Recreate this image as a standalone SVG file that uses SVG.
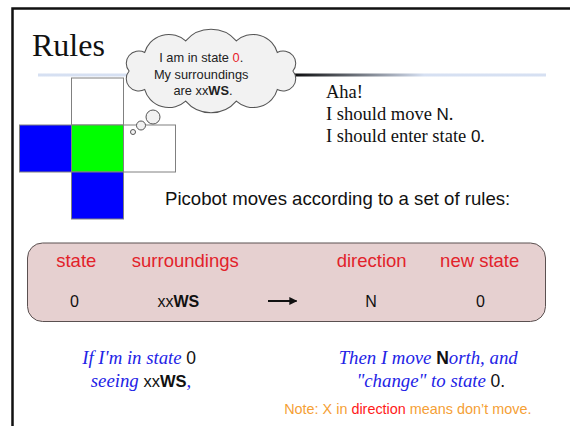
<svg xmlns="http://www.w3.org/2000/svg" width="570" height="426" viewBox="0 0 570 426">
<style>
.serif{font-family:"Liberation Serif","Times New Roman",serif}
.sans{font-family:"Liberation Sans",Arial,sans-serif}
.cell{stroke:#808080;stroke-width:1}
.hdr{fill:#e2222a;font-size:18.5px;text-anchor:middle}
.val{fill:#111;font-size:16px;text-anchor:middle}
.cloud{fill:#f2f2f2;stroke:#555;stroke-width:1}
.blue{fill:#2323e6;font-style:italic}
</style>
<defs>
<linearGradient id="ul" gradientUnits="userSpaceOnUse" x1="38" y1="0" x2="546" y2="0">
<stop offset="0" stop-color="#d6e0f2"/>
<stop offset="0.2" stop-color="#d6e0f2"/>
<stop offset="0.49" stop-color="#000"/>
<stop offset="0.76" stop-color="#d6e0f2"/>
<stop offset="1" stop-color="#d6e0f2"/>
</linearGradient>
<marker id="ah" viewBox="0 0 10 10" refX="9" refY="5" markerWidth="4" markerHeight="4" orient="auto" markerUnits="strokeWidth">
<path d="M0,0 L10,5 L0,10 z" fill="#111"/>
</marker>
</defs>
<rect width="570" height="426" fill="#fff"/>
<path d="M12.5,426 V8.5 H570" fill="none" stroke="#111" stroke-width="2.5"/>

<g id="title">
<text class="serif" x="32" y="56" font-size="32" fill="#111">Rules</text>
<rect x="38" y="73.5" width="508" height="3" fill="url(#ul)"/>
</g>

<g id="grid">
<rect class="cell" x="71.5" y="78" width="52" height="47" fill="#fff"/>
<rect class="cell" x="19.5" y="125" width="52" height="47" fill="#0000ff"/>
<rect class="cell" x="71.5" y="125" width="52" height="47" fill="#00ff00"/>
<rect class="cell" x="123.5" y="125" width="52" height="47" fill="#fff"/>
<rect class="cell" x="71.5" y="172" width="52" height="47" fill="#0000ff"/>
</g>

<g id="thought">
<path class="cloud" transform="translate(211,71) scale(1.05,1.02) translate(-211,-71)" d="M289,71 A12,12 0 0 1 274.1,89.2 A23.7,23.7 0 0 1 235.1,100.5 A31.2,31.2 0 0 1 186.9,100.5 A23.7,23.7 0 0 1 147.9,89.2 A12,12 0 0 1 133,71 A12,12 0 0 1 147.9,52.8 A23.7,23.7 0 0 1 186.9,41.5 A31.2,31.2 0 0 1 235.1,41.5 A23.7,23.7 0 0 1 274.1,52.8 A12,12 0 0 1 289,71 Z"/>
<circle class="cloud" cx="153" cy="117" r="7"/>
<circle class="cloud" cx="141" cy="125.5" r="4.5"/>
<circle class="cloud" cx="133" cy="132" r="2.5"/>
<text class="sans" font-size="12.8" fill="#222" text-anchor="middle">
<tspan x="203" y="62">I am in state <tspan fill="#e8202a">0</tspan>.</tspan>
<tspan x="203" y="78.5">My surroundings</tspan>
<tspan x="203" y="95">are xx<tspan font-weight="bold">WS</tspan>.</tspan>
</text>
</g>

<g id="aha">
<text class="serif" font-size="18.5" fill="#111">
<tspan x="326" y="98">Aha!</tspan>
<tspan x="326" y="120">I should move <tspan class="sans" font-size="17">N</tspan>.</tspan>
<tspan x="326" y="141.5">I should enter state <tspan class="sans" font-size="17">0</tspan>.</tspan>
</text>
</g>

<g id="intro">
<text class="sans" x="165" y="205" font-size="18.6" fill="#111">Picobot moves according to a set of rules:</text>
</g>

<g id="rule">
<rect x="27.5" y="243" width="518" height="78.5" rx="15" ry="15" fill="#e6d0d0" stroke="#5a5050" stroke-width="1"/>
<text class="sans hdr" x="76.3" y="267">state</text>
<text class="sans hdr" x="185.3" y="267">surroundings</text>
<text class="sans hdr" x="371.7" y="267">direction</text>
<text class="sans hdr" x="479.7" y="267">new state</text>
<text class="sans val" x="74.5" y="307">0</text>
<text class="sans val" x="178.4" y="307" font-size="15.8">xx<tspan font-weight="bold">WS</tspan></text>
<text class="sans val" x="371" y="307">N</text>
<text class="sans val" x="480.5" y="307">0</text>
</g>

<g id="connectors">
<line x1="268" y1="301" x2="296.5" y2="301" stroke="#111" stroke-width="2" marker-end="url(#ah)"/>
</g>

<g id="explain-left">
<text class="serif blue" font-size="18.8" text-anchor="middle">
<tspan x="141.5" y="364">If I'm in state <tspan class="sans" font-style="normal" fill="#111" font-size="17.5">0</tspan></tspan>
<tspan x="141" y="386.5">seeing <tspan class="sans" font-style="normal" fill="#111" font-size="16.5">xx<tspan font-weight="bold">WS</tspan></tspan>,</tspan>
</text>
</g>

<g id="explain-right">
<text class="serif blue" font-size="18.8" text-anchor="middle">
<tspan x="430.5" y="364">Then I move <tspan class="sans" font-style="normal" fill="#111" font-weight="bold" font-size="17.5">N</tspan>orth, and</tspan>
<tspan x="430.8" y="386.5">"change" to state <tspan class="sans" font-style="normal" fill="#111" font-size="17.5">0.</tspan></tspan>
</text>
</g>

<g id="note">
<text class="sans" x="407.8" y="413.5" font-size="14.4" fill="#f5a035" text-anchor="middle">Note: X in <tspan fill="#ff1a1a">direction</tspan> means don’t move.</text>
</g>
</svg>
